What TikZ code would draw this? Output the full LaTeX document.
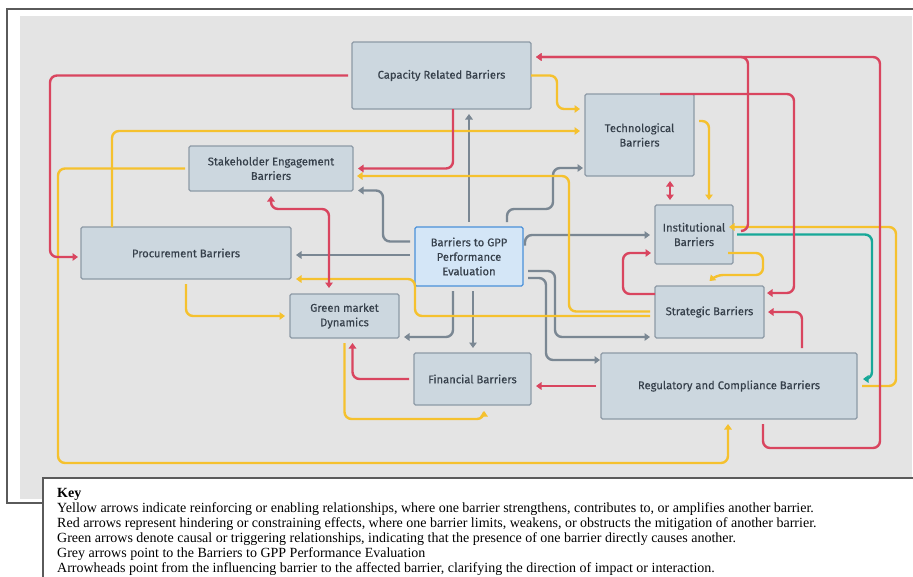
\documentclass[tikz,border=0pt]{standalone}
\usepackage{fontspec}
\setmainfont{Liberation Serif}
\newfontfamily\boxfont[FakeBold=0.35]{Fira Sans}
\usetikzlibrary{arrows.meta,calc}
\definecolor{bgc}{HTML}{E4E4E4}
\definecolor{framec}{HTML}{5A5A5A}
\definecolor{boxfill}{HTML}{CCD7DF}
\definecolor{boxline}{HTML}{8D9AA6}
\definecolor{gppfill}{HTML}{D4E6F7}
\definecolor{gppline}{HTML}{4A90D9}
\definecolor{redc}{HTML}{D9455F}
\definecolor{yelc}{HTML}{F5C12E}
\definecolor{grec}{HTML}{7A8793}
\definecolor{tealc}{HTML}{17A898}
\definecolor{txtc}{HTML}{36404B}
\tikzset{
  barrier/.style={draw=boxline, fill=boxfill, line width=1.3pt, rounded corners=1.5pt,
    inner sep=0pt, outer sep=0pt, align=center, text=txtc,
    font=\boxfont\fontsize{11.2}{14.5}\selectfont},
  gppbox/.style={barrier, draw=gppline, fill=gppfill},
  conn/.style={line width=2.4pt, rounded corners=7pt, -{Triangle[length=5.5pt,width=7.5pt]}},
  redl/.style={conn, color=redc},
  yell/.style={conn, color=yelc},
  grel/.style={conn, color=grec},
  teall/.style={conn, color=tealc},
  both/.style={{Triangle[length=5.5pt,width=7.5pt]}-{Triangle[length=5.5pt,width=7.5pt]}},
}
\begin{document}
\begin{tikzpicture}[x=1pt,y=-1pt]
\useasboundingbox (0,0) rectangle (913,576);
\fill[white] (0,0) rectangle (913,576);
\draw[framec, line width=1.2pt] (913,9) -- (7,9) -- (7,503) -- (43,503);
\fill[bgc] (20,16) rectangle (912,499);

% nodes
\node[barrier, minimum width=179pt, minimum height=67pt] (cap) at (441.5,75.5) {Capacity Related Barriers};
\node[barrier, minimum width=109pt, minimum height=82pt] (tech) at (639.5,135) {Technological\\Barriers};
\node[barrier, minimum width=164pt, minimum height=45pt] (stake) at (271,168.5) {Stakeholder Engagement\\Barriers};
\node[barrier, minimum width=210pt, minimum height=52pt] (proc) at (186,253) {Procurement Barriers};
\node[gppbox, minimum width=108pt, minimum height=59pt] (gpp) at (469,256.5) {Barriers to GPP\\Performance\\Evaluation};
\node[barrier, minimum width=109pt, minimum height=44pt] (green) at (344.5,316) {Green market\\Dynamics};
\node[barrier, minimum width=117pt, minimum height=52pt] (fin) at (472.5,379) {Financial Barriers};
\node[barrier, minimum width=78pt, minimum height=59pt] (inst) at (694,234.5) {Institutional\\Barriers};
\node[barrier, minimum width=109pt, minimum height=52pt] (strat) at (709.5,312) {Strategic Barriers};
\node[barrier, minimum width=256pt, minimum height=66pt] (reg) at (729,386) {Regulatory and Compliance Barriers};

% grey connectors (from GPP)
\draw[grel] ($(gpp.north)+(0,-5)$) -- ($(cap.south)+(27.5,5)$);
\draw[grel] ($(gpp.west)+(-5,-15)$) -| (383,190.5) -- ($(stake.east)+(5,22)$);
\draw[grel] ($(gpp.west)+(-5,-1.5)$) -- ($(proc.east)+(5,2)$);
\draw[grel] ($(gpp.north)+(38,-5)$) |- (553,209) |- ($(tech.west)+(-2,33)$);
\draw[grel] ($(gpp.east)+(2,-11)$) |- ($(inst.west)+(-5,0.5)$);
\draw[grel] ($(gpp.east)+(5,14.5)$) -| (555,337) -- ($(strat.west)+(-5,25)$);
\draw[grel] ($(gpp.east)+(5,21.5)$) -| (546,360) -- ($(reg.west)+(-1,-26)$);
\draw[grel] ($(gpp.south)+(-16,5)$) |- ($(green.east)+(5,21)$);
\draw[grel] ($(gpp.south)+(4,5)$) -- ($(fin.north)+(0.5,-5)$);

% yellow connectors
\draw[yell] (cap.east) -| (557,109) -- ($(tech.west)+(-5,-26)$);
\draw[yell] ($(proc.north)+(-74,0)$) |- ($(tech.west)+(-5,-4)$);
\draw[yell] ($(stake.west)+(-4,0)$) -| (58,463) -| ($(reg.south)+(-1,5)$);
\draw[yell] ($(strat.west)+(-5,-0.5)$) -| (569,176) -- ($(stake.east)+(4,7.5)$);
\draw[yell] ($(strat.west)+(-5,4)$) -| (415,279) -- ($(proc.east)+(5,26)$);
\draw[yell] ($(proc.south)+(0,5)$) |- ($(green.west)+(-5,0)$);
\draw[yell] ($(green.south)+(0,5)$) |- (484,419) -- ($(fin.south)+(11.5,6)$);
\draw[yell] ($(tech.east)+(5,-14)$) -| ($(inst.north)+(15,-5)$);
\draw[yell] ($(inst.east)+(-5,18.5)$) -| (763,275) -- (716,275) -- ($(strat.north)+(0,-5)$);
\draw[yell] ($(reg.east)+(5,0)$) -| (896,227) -- ($(inst.east)+(-4,-7.5)$);

% teal connector
\draw[teall] ($(inst.east)+(4,0)$) -| (872,379) -- ($(reg.east)+(6,-7)$);

% red connectors
\draw[redl] ($(cap.west)+(-4,0)$) -| (50,257) -- ($(proc.west)+(-3,4)$);
\draw[redl] ($(cap.south)+(11.5,0)$) |- ($(stake.east)+(5,0)$);
\draw[redl] ($(reg.south)+(34,5)$) |- (880,448) |- ($(cap.east)+(5,-18.5)$);
\draw[redl] ($(inst.east)+(8,-3.5)$) -| (748,57) -- ($(cap.east)+(5,-18.5)$);
\draw[redl] ($(tech.north)+(20.5,0)$) -| (794,293) -- ($(strat.east)+(3,-19)$);
\draw[redl, both] ($(tech.south)+(30.5,5)$) -- ($(inst.north)+(-24,-5)$);
\draw[redl] ($(strat.west)+(0,-18)$) -| (623,253) -- ($(inst.west)+(-4,18.5)$);
\draw[redl] ($(reg.north)+(73,-5)$) |- ($(strat.east)+(4,0)$);
\draw[redl] ($(reg.west)+(-5,0)$) -- ($(fin.east)+(5,7)$);
\draw[redl] ($(fin.west)+(-5,0)$) -| ($(green.south)+(8,5)$);
\draw[redl, both] ($(stake.south)+(0,5)$) |- (329,209) -- ($(green.north)+(-15.5,-6)$);

% key
\fill[white] (43,478) rectangle (913,576);
\draw[framec, line width=1.2pt] (913,478) -- (43,478) -- (43,577);
\node[anchor=north west, inner sep=0pt, align=left, font=\fontsize{14}{15}\selectfont] (key) at (57,488)
{\textbf{Key}\\
Yellow arrows indicate reinforcing or enabling relationships, where one barrier strengthens, contributes to, or amplifies another barrier.\\
Red arrows represent hindering or constraining effects, where one barrier limits, weakens, or obstructs the mitigation of another barrier.\\
Green arrows denote causal or triggering relationships, indicating that the presence of one barrier directly causes another.\\
Grey arrows point to the Barriers to GPP Performance Evaluation\\
Arrowheads point from the influencing barrier to the affected barrier, clarifying the direction of impact or interaction.};
\end{tikzpicture}
\end{document}
